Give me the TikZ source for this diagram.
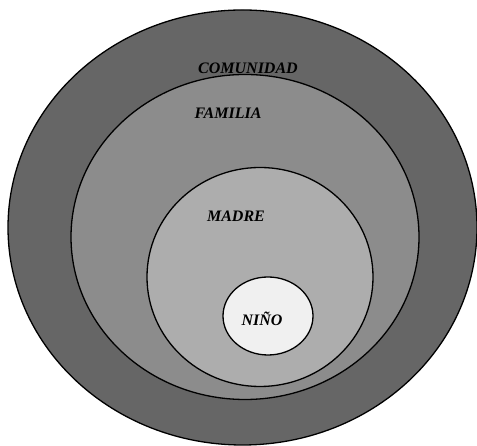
\documentclass[tikz,border=0pt]{standalone}
\usepackage{fontspec}
\newfontfamily\labelfont{Liberation Serif}
\usetikzlibrary{shapes.geometric}
\begin{document}
\begin{tikzpicture}[x=1pt,y=1pt,
  ring/.style={ellipse,draw=black,line width=1.3pt,inner sep=0pt},
  lbl/.style={font=\labelfont\fontsize{16}{18}\selectfont\bfseries\itshape,inner sep=0pt}]
\useasboundingbox (0,0) rectangle (477,446);
\fill[white] (0,0) rectangle (477,446);
\node[ring,fill=black!60,minimum width=469pt,minimum height=435pt] (comunidad) at (242.5,218.5) {};
\node[ring,fill=black!45,minimum width=348pt,minimum height=325pt] (familia) at (245,209) {};
\node[ring,fill=black!32,minimum width=226pt,minimum height=219pt] (madre) at (260,169) {};
\node[ring,fill=black!6,minimum width=90pt,minimum height=78pt] (nino) at (268,130) {};
\node[lbl] (t1) at (248,378) {COMUNIDAD};
\node[lbl] (t2) at (228,333) {FAMILIA};
\node[lbl] (t3) at (236,230) {MADRE};
\node[lbl] (t4) at (262,127) {NIÑO};
\end{tikzpicture}
\end{document}
